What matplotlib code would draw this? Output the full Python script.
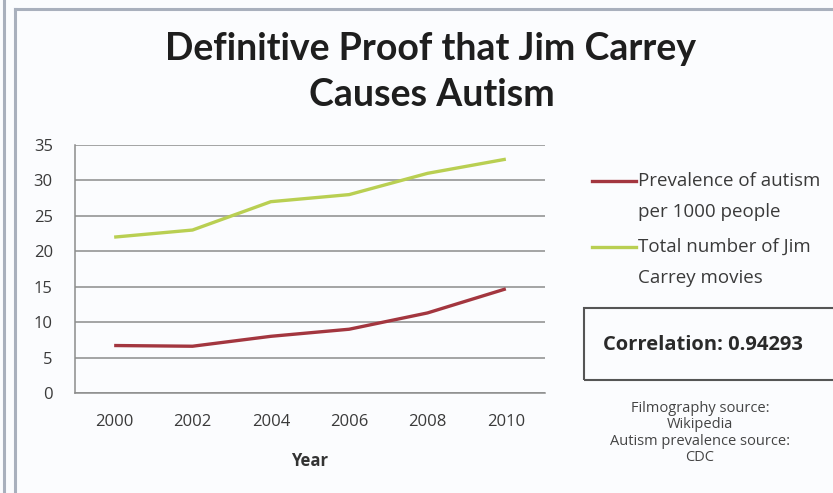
import matplotlib
matplotlib.use("Agg")
import matplotlib.pyplot as plt
from matplotlib.lines import Line2D
from matplotlib.patches import Rectangle
import numpy as np

years = ["2000", "2002", "2004", "2006", "2008", "2010"]
autism = [6.7, 6.6, 8.0, 9.0, 11.3, 14.7]
movies = [22, 23, 27, 28, 31, 33]
yticks = [0, 5, 10, 15, 20, 25, 30, 35]
legend_labels = [["Prevalence of autism", "per 1000 people"],
                 ["Total number of Jim", "Carrey movies"]]
correlation_text = "Correlation: 0.94293"
source_text = "Filmography source:\nWikipedia\nAutism prevalence source:\nCDC"

W, H = 833, 493
plt.rcParams['font.family'] = ['Lato', 'DejaVu Sans']
fig = plt.figure(figsize=(W / 100, H / 100), dpi=100, facecolor="#fbfcfe")

def fx(px):
    return px / W

def fy(py):
    return 1 - py / H

# outer frame lines
frame_col = "#a9b0bd"
fig.add_artist(Line2D([fx(4), fx(4)], [0, 1], color=frame_col, lw=2.2))
fig.add_artist(Line2D([fx(14.5), fx(14.5)], [0, fy(9)], color=frame_col, lw=2.2))
fig.add_artist(Line2D([fx(14.5), 1], [fy(9), fy(9)], color=frame_col, lw=2.2))

ax = fig.add_axes([fx(75), fy(393), fx(545) - fx(75), fy(145) - fy(393)])
ax.set_facecolor("none")
x = np.arange(len(years))
red = "#a3363f"
green = "#b9cf52"
ax.plot(x, autism, color=red, lw=2.4, solid_capstyle="butt")
ax.plot(x, movies, color=green, lw=2.4, solid_capstyle="butt")
ax.set_xlim(-0.5, len(years) - 0.5)
ax.set_ylim(0, 35)
ax.set_yticks(yticks)
ax.set_yticklabels([str(v) for v in yticks], family=['Open Sans', 'DejaVu Sans'])
ax.set_xticks(x)
ax.set_xticklabels(years, family=['Open Sans', 'DejaVu Sans'])
ax.grid(axis="y", color="#8c8c8c", lw=1.1)
ax.set_axisbelow(True)
for s in ["top", "right"]:
    ax.spines[s].set_visible(False)
for s in ["left", "bottom"]:
    ax.spines[s].set_color("#8c8c8c")
    ax.spines[s].set_linewidth(1.1)
ax.tick_params(axis="both", length=0, labelsize=12, colors="#3a3a3a")
ax.tick_params(axis="y", pad=16)
ax.tick_params(axis="x", pad=15)
ax.set_xlabel("Year", fontsize=12, fontweight="bold", color="#333333", labelpad=16,
              family=['Open Sans', 'DejaVu Sans'])

# title
fig.text(fx(431), fy(49), "Definitive Proof that Jim Carrey", ha="center", va="center",
         fontsize=27, fontweight="bold", color="#1e1e1e")
fig.text(fx(432), fy(95), "Causes Autism", ha="center", va="center",
         fontsize=27, fontweight="bold", color="#1e1e1e")

# legend
for i, (lines, col) in enumerate(zip(legend_labels, [red, green])):
    yl = 181 + i * 66
    fig.add_artist(Line2D([fx(592), fx(636)], [fy(yl), fy(yl)], color=col, lw=2.4))
    for j, t in enumerate(lines):
        fig.text(fx(638), fy(yl + j * 31), t, ha="left", va="center", fontsize=13.5,
                 color="#3a3a3a", family=['Open Sans', 'DejaVu Sans'])

# correlation box
fig.add_artist(Rectangle((fx(584), fy(380)), fx(260), fy(308) - fy(380),
                         transform=fig.transFigure, fill=False, ec="#555555", lw=1.5))
fig.text(fx(603), fy(345), correlation_text, ha="left", va="center",
         fontsize=14.5, fontweight="bold", color="#2a2a2a",
         family=['Open Sans', 'DejaVu Sans'])

# sources
fig.text(fx(700), fy(433), source_text, ha="center", va="center", fontsize=10.5,
         color="#444444", linespacing=1.15, family=['Open Sans', 'DejaVu Sans'])

fig.savefig("out.png", dpi=100, facecolor=fig.get_facecolor())
